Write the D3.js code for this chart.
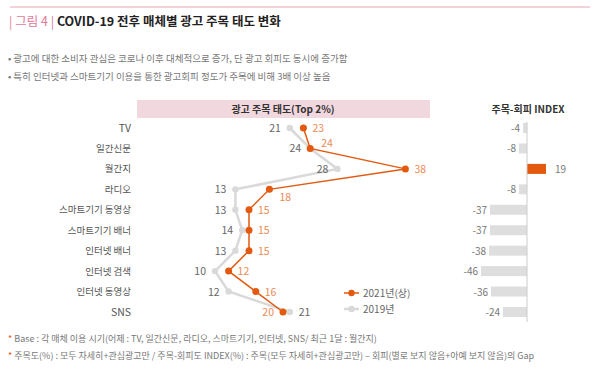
<!DOCTYPE html>
<html>
<head>
<meta charset="utf-8">
<script src="https://cdn.jsdelivr.net/npm/d3@7"></script>
<style>
  body { margin: 0; background: #fff; }
  svg { font-family: "Noto Sans CJK KR", "Noto Sans", sans-serif; }
</style>
</head>
<body>
<div id="chart-area"></div>
<script>
const categories = ['TV', '일간신문', '월간지', '라디오', '스마트기기 동영상', '스마트기기 배너',
  '인터넷 배너', '인터넷 검색', '인터넷 동영상', 'SNS'];
const values2021 = [23, 24, 38, 18, 15, 15, 15, 12, 16, 20];
const values2019 = [21, 24, 28, 13, 13, 14, 13, 10, 12, 21];
const indexValues = [-4, -8, 19, -8, -37, -37, -38, -46, -36, -24];
const seriesNames = ['2021년(상)', '2019년'];

const width = 600, height = 377;
const orange = '#e2590f', grey = '#d9d9d9', txt = '#666';

let svg = d3.select('#chart-area')
  .append('svg')
  .attr('width', width)
  .attr('height', height)

// header
svg.append('line')
  .attr('x1', 10).attr('x2', 590).attr('y1', 7).attr('y2', 7)
  .attr('stroke', '#e6a3b3').attr('stroke-width', 1)

let title = svg.append('text').attr('x', 9).attr('y', 26).style('font-size', '12.5px')
title.append('tspan').attr('fill', '#e07a98').text('| 그림 4 |  ')
title.append('tspan').attr('fill', '#222').attr('font-weight', 'bold').text('COVID-19 전후 매체별 광고 주목 태도 변화')

const bullets = ['• 광고에 대한 소비자 관심은  코로나 이후 대체적으로 증가, 단 광고 회피도 동시에 증가함',
  '• 특히 인터넷과 스마트기기 이용을 통한 광고회피 정도가 주목에 비해 3배 이상 높음']
svg.selectAll('.bullet')
  .data(bullets)
  .join('text')
  .attr('class', 'bullet')
  .attr('x', 8)
  .attr('y', (d, i) => 62 + i * 18)
  .attr('fill', '#777')
  .style('font-size', '9.5px')
  .text(d => d)

// scales
let y = d3.scalePoint()
  .domain(categories)
  .range([128, 312])

let x = d3.scaleLinear()
  .domain([0, 40])
  .range([147, 419])

// left panel header
svg.append('rect')
  .attr('x', 137).attr('y', 100).attr('width', 293).attr('height', 18)
  .attr('fill', '#f1d8df')
svg.append('text')
  .attr('x', 283).attr('y', 113)
  .attr('text-anchor', 'middle')
  .attr('font-weight', 'bold')
  .attr('fill', '#333')
  .style('font-size', '10px')
  .text('광고 주목 태도(Top 2%)')

// category labels
svg.selectAll('.cat')
  .data(categories)
  .join('text')
  .attr('class', 'cat')
  .attr('x', 131)
  .attr('y', d => y(d) + 3.5)
  .attr('text-anchor', 'end')
  .attr('fill', '#555')
  .style('font-size', d => /^[A-Z]+$/.test(d) ? '10.5px' : '9.5px')
  .text(d => d)

let line = d3.line()
  .x(d => x(d.v))
  .y(d => y(d.c))

const pts2019 = categories.map((c, i) => ({ c: c, v: values2019[i] }))
const pts2021 = categories.map((c, i) => ({ c: c, v: values2021[i] }))

// 2019 series
svg.append('path')
  .datum(pts2019)
  .attr('d', line)
  .attr('fill', 'none')
  .attr('stroke', grey)
  .attr('stroke-width', 2.5)
svg.selectAll('.dot19')
  .data(pts2019)
  .join('circle')
  .attr('class', 'dot19')
  .attr('cx', d => x(d.v))
  .attr('cy', d => y(d.c))
  .attr('r', 3.2)
  .attr('fill', grey)

// 2021 series
svg.append('path')
  .datum(pts2021)
  .attr('d', line)
  .attr('fill', 'none')
  .attr('stroke', orange)
  .attr('stroke-width', 1.5)
svg.selectAll('.dot21')
  .data(pts2021)
  .join('circle')
  .attr('class', 'dot21')
  .attr('cx', d => x(d.v))
  .attr('cy', d => y(d.c))
  .attr('r', 3.5)
  .attr('fill', orange)

// value labels (2019 on the left side, 2021 on the right side)
svg.selectAll('.lab19')
  .data(pts2019)
  .join('text')
  .attr('class', 'lab19')
  .attr('x', (d, i) => i === 9 ? x(d.v) + 9 : x(d.v) - 9)
  .attr('y', d => y(d.c) + 4)
  .attr('text-anchor', (d, i) => i === 9 ? 'start' : 'end')
  .attr('fill', txt)
  .style('font-size', '10.5px')
  .text(d => d.v)

const off21 = { 1: [11, -1], 3: [10, 12], 9: [-9, 4] }
svg.selectAll('.lab21')
  .data(pts2021)
  .join('text')
  .attr('class', 'lab21')
  .attr('x', (d, i) => x(d.v) + (off21[i] ? off21[i][0] : 9))
  .attr('y', (d, i) => y(d.c) + (off21[i] ? off21[i][1] : 4))
  .attr('text-anchor', (d, i) => i === 9 ? 'end' : 'start')
  .attr('fill', '#ec8a55')
  .style('font-size', '10.5px')
  .text(d => d.v)

// legend
let legend = svg.selectAll('.legend')
  .data(seriesNames)
  .join('g')
  .attr('class', 'legend')
  .attr('transform', (d, i) => `translate(344, ${293 + i * 16})`)
legend.append('line')
  .attr('x1', 0).attr('x2', 15)
  .attr('stroke', (d, i) => i === 0 ? orange : grey)
  .attr('stroke-width', (d, i) => i === 0 ? 1.5 : 2.5)
legend.append('circle')
  .attr('cx', 7.5).attr('r', 3.2)
  .attr('fill', (d, i) => i === 0 ? orange : grey)
legend.append('text')
  .attr('x', 19).attr('y', 3.5)
  .attr('fill', txt)
  .style('font-size', '10px')
  .text(d => d)

// right panel: index bars
let xb = d3.scaleLinear()
  .domain([0, 1])
  .range([527, 528])

svg.append('text')
  .attr('x', 528).attr('y', 113)
  .attr('text-anchor', 'middle')
  .attr('font-weight', 'bold')
  .attr('fill', '#333')
  .style('font-size', '10px')
  .text('주목-회피 INDEX')

svg.selectAll('.bar')
  .data(indexValues)
  .join('rect')
  .attr('class', 'bar')
  .attr('x', d => Math.min(xb(d), xb(0)))
  .attr('y', (d, i) => y(categories[i]) - 5)
  .attr('width', d => Math.abs(xb(d) - xb(0)))
  .attr('height', 10)
  .attr('fill', d => d > 0 ? orange : '#dedede')

svg.append('line')
  .attr('x1', xb(0)).attr('x2', xb(0))
  .attr('y1', 122).attr('y2', 322)
  .attr('stroke', '#ccc')

svg.selectAll('.barlab')
  .data(indexValues)
  .join('text')
  .attr('class', 'barlab')
  .attr('x', d => d > 0 ? xb(d) + 9 : xb(d) - 3)
  .attr('y', (d, i) => y(categories[i]) + 4)
  .attr('text-anchor', d => d > 0 ? 'start' : 'end')
  .attr('fill', '#777')
  .style('font-size', '10px')
  .text(d => d)

// footnotes
const notes = ['Base : 각 매체 이용 시기(어제 : TV, 일간신문, 라디오, 스마트기기, 인터넷, SNS/ 최근 1달 : 월간지)',
  '주목도(%) : 모두 자세히+관심광고만 / 주목-회피도 INDEX(%) : 주목(모두 자세히+관심광고만) – 회피(별로 보지 않음+아예 보지 않음)의 Gap']
let foot = svg.selectAll('.note')
  .data(notes)
  .join('text')
  .attr('class', 'note')
  .attr('x', 8)
  .attr('y', (d, i) => 342 + i * 17)
  .style('font-size', '9px')
foot.append('tspan').attr('fill', '#e2590f').text('* ')
foot.append('tspan').attr('fill', '#777').text(d => d)
</script>
</body>
</html>
